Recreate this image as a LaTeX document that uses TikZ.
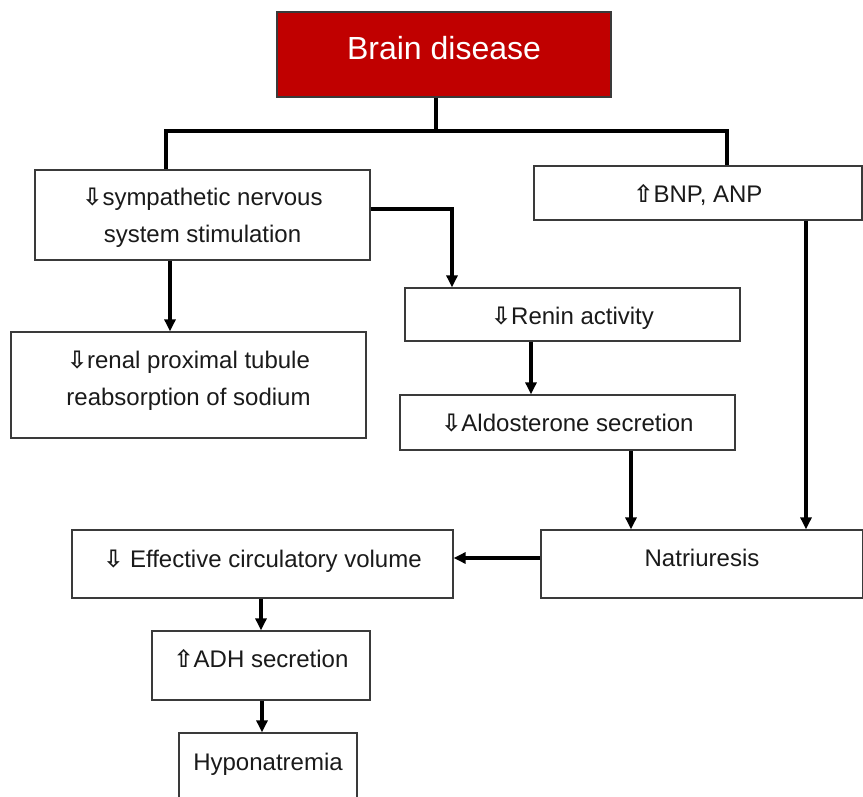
\documentclass[tikz,border=0pt]{standalone}
\usepackage{fontspec}
\setmainfont{Liberation Sans}
\newfontfamily\arwfont{DejaVu Sans}
\usetikzlibrary{arrows.meta,positioning,calc}
\definecolor{brainred}{HTML}{C00000}
\definecolor{edge}{HTML}{3A3A3A}
\definecolor{ink}{HTML}{1A1A1A}
\newcommand{\decr}{{\arwfont\bfseries\char"21E9}}
\newcommand{\incr}{{\arwfont\bfseries\char"21E7}}

\begin{document}
\begin{tikzpicture}[x=1pt,y=1pt,font=\fontsize{24}{37}\selectfont,text=ink,
  box/.style={draw=edge,line width=1.3pt,fill=white,inner sep=0pt,align=center,text depth=10pt},
  flow/.style={-{Triangle[length=12pt,width=11pt]},line width=3.5pt,black},
  bar/.style={line width=3.5pt,black,line join=miter}]
  \useasboundingbox (0,0) rectangle (863,-797);
  \node[box,fill=brainred,text=white,minimum width=334,minimum height=85,text height=20pt,
        font=\fontsize{32}{38}\selectfont] (brain) at (444,-54.5) {Brain disease};
  \node[box,minimum width=335,minimum height=90,text height=66pt] (sym) at (202.5,-215)
        {\decr sympathetic nervous\\system stimulation};
  \node[box,minimum width=328,minimum height=54,text height=30pt] (bnp) at (698,-193) {\incr BNP, ANP};
  \node[box,minimum width=355,minimum height=106,text height=50pt] (renal) at (188.5,-385)
        {\decr renal proximal tubule\\reabsorption of sodium};
  \node[box,minimum width=335,minimum height=53,text height=29pt] (renin) at (572.5,-314.5) {\decr Renin activity};
  \node[box,minimum width=335,minimum height=55,text height=27pt] (aldo) at (567.5,-422.5) {\decr Aldosterone secretion};
  \node[box,minimum width=322,minimum height=68,text height=14pt] (natri) at (702,-564) {Natriuresis};
  \node[box,minimum width=381,minimum height=68,text height=16pt] (eff) at (262.5,-564)
        {\decr{} Effective circulatory volume};
  \node[box,minimum width=218,minimum height=69,text height=13pt] (adh) at (261,-665.5) {\incr ADH secretion};
  \node[box,minimum width=178,minimum height=77,text height=7pt] (hypo) at (268,-771.5) {Hyponatremia};

  % fork under the top box
  \coordinate (fork) at (436,-131);
  \coordinate (lfork) at (166,-131);
  \coordinate (rfork) at (727,-131);
  \draw[bar] (brain.south -| fork) -- (fork);
  \draw[bar] (sym.north -| lfork) -- (lfork) -- (rfork) -- (bnp.north -| rfork);

  \draw[flow] (sym.east |- 0,-209) -| (renin.north -| 452,0);
  \draw[flow] (sym.south -| 170,0) -- (renal.north -| 170,0);
  \draw[flow] (renin.south -| 531,0) -- (aldo.north -| 531,0);
  \draw[flow] (aldo.south -| 631,0) -- (natri.north -| 631,0);
  \draw[flow] (bnp.south -| 806,0) -- (natri.north -| 806,0);
  \draw[flow] (natri.west |- 0,-558) -- (eff.east |- 0,-558);
  \draw[flow] (eff.south -| 261,0) -- (adh.north -| 261,0);
  \draw[flow] (adh.south -| 262,0) -- (hypo.north -| 262,0);
\end{tikzpicture}
\end{document}
